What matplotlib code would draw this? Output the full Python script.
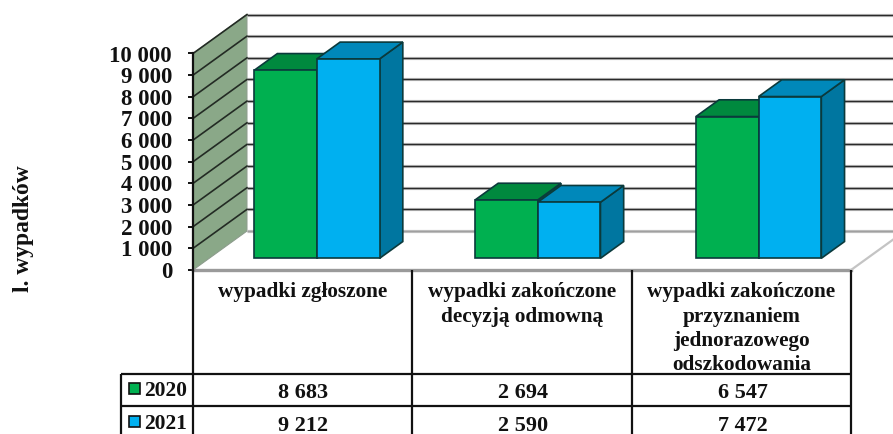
import matplotlib
matplotlib.use("Agg")
import matplotlib.pyplot as plt
from matplotlib.patches import Polygon, Rectangle

categories = ["wypadki zgłoszone",
              "wypadki zakończone\ndecyzją odmowną",
              "wypadki zakończone\nprzyznaniem\njednorazowego\nodszkodowania"]
years = ["2020", "2021"]
values_2020 = [8683, 2694, 6547]
values_2021 = [9212, 2590, 7472]
yticks = list(range(0, 11000, 1000))

W, H = 893, 434
SERIF = "Liberation Serif"
EDGE = "#0b3a3c"
front_cols = ["#00B050", "#00B0F0"]
top_cols = ["#00893E", "#0088BA"]
side_cols = ["#006B33", "#0076A0"]

fig = plt.figure(figsize=(W / 100, H / 100), dpi=100, facecolor="white")
ax = fig.add_axes([193 / W, 1 - 270 / H, (851 - 193) / W, (270 - 53.5) / H])
ax.set_xlim(0, 3)
ax.set_ylim(0, 10000)
ax.patch.set_alpha(0)
for s in ["top", "right", "bottom"]:
    ax.spines[s].set_visible(False)
ax.spines["left"].set_linewidth(1.6)
ax.spines["left"].set_color("#111111")

DX, DY = 0.246, 1800


def proj(x, y, d):
    return (x + d * DX, y + d * DY)


# left wall
ax.add_patch(Polygon([proj(0, 0, 0), proj(0, 10000, 0), proj(0, 10000, 1), proj(0, 0, 1)],
                     closed=True, fc="#8AA888", ec="#8c9c8c", lw=0.8, clip_on=False, zorder=1))
# gridlines
for t in yticks:
    a, b, c = proj(0, t, 0), proj(0, t, 1), proj(3, t, 1)
    ax.plot([b[0], c[0]], [b[1], c[1]], color="#c4c4c4", lw=2.3, clip_on=False, zorder=2,
            solid_capstyle="butt")
    ax.plot([b[0], c[0]], [b[1], c[1]], color="#2a2a2a" if t > 0 else "#a0a0a0", lw=1.0,
            clip_on=False, zorder=2.1, solid_capstyle="butt")
    if t > 0:
        ax.plot([a[0], b[0]], [a[1], b[1]], color="#232b24", lw=1.2, clip_on=False, zorder=2.2)
# floor edges
f0, f1 = proj(3, 0, 0), proj(3, 0, 1)
ax.plot([0, 3], [0, 0], color="#9a9a9a", lw=2.4, clip_on=False, zorder=2.3)
ax.plot([f0[0], f1[0]], [f0[1], f1[1]], color="#c4c4c4", lw=1.6, clip_on=False, zorder=2.3)

# bars
BW, OFF, STEP, D0, D1 = 0.286, 0.205, 1.007, 0.30, 0.73
for s, vals in enumerate([values_2020, values_2021]):
    for i, v in enumerate(vals):
        x0 = i * STEP + OFF + s * BW
        x1 = x0 + BW
        z = 3 + s + i * 0.1
        kw = dict(closed=True, ec=EDGE, lw=1.2, clip_on=False, zorder=z, joinstyle="miter")
        ax.add_patch(Polygon([proj(x1, 0, D0), proj(x1, v, D0), proj(x1, v, D1), proj(x1, 0, D1)],
                             fc=side_cols[s], **kw))
        ax.add_patch(Polygon([proj(x0, v, D0), proj(x1, v, D0), proj(x1, v, D1), proj(x0, v, D1)],
                             fc=top_cols[s], **kw))
        ax.add_patch(Polygon([proj(x0, 0, D0), proj(x1, 0, D0), proj(x1, v, D0), proj(x0, v, D0)],
                             fc=front_cols[s], **kw))

# y axis
ax.set_xticks([])
ax.set_yticks(yticks)
ax.set_yticklabels([f"{t:,}".replace(",", " ") for t in yticks],
                   family=SERIF, fontweight="bold", fontsize=16.5, color="#111111")
ax.tick_params(axis="y", length=3.6, width=1.4, color="#111111", pad=11.5)

# table overlay in pixel space
ov = fig.add_axes([0, 0, 1, 1])
ov.set_xlim(0, W)
ov.set_ylim(H, 0)
ov.axis("off")
ov.patch.set_alpha(0)
col_x = [193, 412, 632, 851]
row_y = [374, 406]
row_text = [393, 426]
key_mid = [388.5, 421.7]
LC = "#111111"
for x in col_x:
    ov.plot([x, x], [270, 434], color=LC, lw=1.6, solid_capstyle="butt")
ov.plot([121, 121], [374, 434], color=LC, lw=1.6, solid_capstyle="butt")
for y in row_y:
    ov.plot([121, 851], [y, y], color=LC, lw=1.6, solid_capstyle="butt")

for i, c in enumerate(categories):
    ov.text((col_x[i] + col_x[i + 1]) / 2, 282.5, c, ha="center", va="top", family=SERIF,
            fontweight="bold", fontsize=15.3, linespacing=1.27, color="#111111")

for r, (yr, vals) in enumerate(zip(years, [values_2020, values_2021])):
    yc = row_text[r]
    ov.add_patch(Rectangle((128.5, key_mid[r] - 5.5), 11, 11, fc=front_cols[r], ec="#111111", lw=1.2))
    ov.text(144, yc - 2, yr, ha="left", va="center", family=SERIF, fontweight="bold",
            fontsize=15.5, color="#111111")
    for i, v in enumerate(vals):
        ov.text((col_x[i] + col_x[i + 1]) / 2 + 1, yc, f"{v:,}".replace(",", " "), ha="center",
                va="center", family=SERIF, fontweight="bold", fontsize=16, color="#111111")

ov.text(23, 229, "l. wypadków", rotation=90, ha="center", va="center", family=SERIF,
        fontweight="bold", fontsize=16.9, color="#111111")

fig.savefig("out.png", dpi=100)
